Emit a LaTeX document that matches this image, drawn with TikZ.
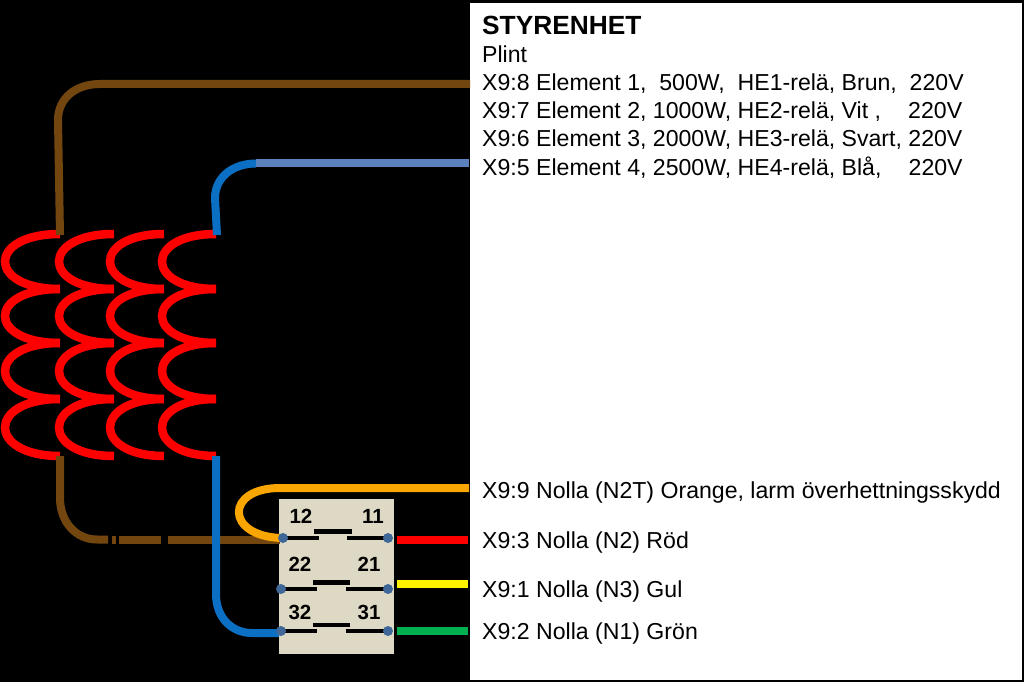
\documentclass[tikz,border=0pt]{standalone}
\usepackage{fontspec}
\setmainfont{Liberation Sans}
\definecolor{wbrown}{HTML}{734610}
\definecolor{wblue}{HTML}{0B70C4}
\definecolor{wlblue}{HTML}{5B82BD}
\definecolor{worange}{HTML}{F9A602}
\definecolor{wgreen}{HTML}{00B050}
\definecolor{relay}{HTML}{DDD9C4}
\definecolor{term}{HTML}{3F6797}
\tikzset{
  wire/.style={line width=8bp},
  coil/.style={line width=8.5bp,red},
  bar/.style={line width=4.5bp,black},
  panel/.style={fill=white,draw=none},
  plint/.style={anchor=west,inner sep=0pt,font=\fontsize{23.1bp}{26bp}\selectfont},
  pin/.style={inner sep=0pt,font=\bfseries\fontsize{20.5bp}{22bp}\selectfont},
  terminal/.style={circle,fill=term,minimum size=10bp,inner sep=0pt}
}
\begin{document}
\begin{tikzpicture}[x=1bp,y=-1bp]
\useasboundingbox (0,0) rectangle (1024,682);
\fill[black] (0,0) rectangle (1024,682);
\fill[panel] (470,3) rectangle (1022,680);
% heating coils
\foreach \xe/\xl in {60/5,114/59,164/110,216/162}{
  \foreach \ya/\yb in {234/289,289/343,343/399,399/456}{
    \draw[coil] (\xe,\ya) .. controls ({\xe-1.333*(\xe-\xl)},\ya) and ({\xe-1.333*(\xe-\xl)},\yb) .. (\xe,\yb);
  }
}
% relay
\fill[relay] (279,499) rectangle (394,654);
\coordinate (t12) at (283,538);
\coordinate (t11) at (388,538);
\coordinate (t22) at (281,589);
\coordinate (t21) at (388,589);
\coordinate (t32) at (281,631);
\coordinate (t31) at (388,631);
\coordinate (c12) at (319,538); \coordinate (c11) at (347,538);
\coordinate (c22) at (317,589); \coordinate (c21) at (346,589);
\coordinate (c32) at (317,631); \coordinate (c31) at (346,631);
\coordinate (b1a) at (314,531.5); \coordinate (b1b) at (352,531.5);
\coordinate (b2a) at (313,582.5); \coordinate (b2b) at (350,582.5);
\coordinate (b3a) at (313,625); \coordinate (b3b) at (350,625);
\draw[bar] (t12) -- (c12);
\draw[bar] (c11) -- (t11);
\draw[bar] (t22) -- (c22);
\draw[bar] (c21) -- (t21);
\draw[bar] (t32) -- (c32);
\draw[bar] (c31) -- (t31);
\draw[bar] (b1a) -- (b1b);
\draw[bar] (b2a) -- (b2b);
\draw[bar] (b3a) -- (b3b);
\node[pin] (p12) at (301,516) {12};
\node[pin] (p11) at (373,516) {11};
\node[pin] (p22) at (300,564) {22};
\node[pin] (p21) at (369,564) {21};
\node[pin] (p32) at (300,612) {32};
\node[pin] (p31) at (369,612) {31};
% coil ends
\coordinate (coilAtop) at (60,235);
\coordinate (coilDtop) at (217,235);
\coordinate (coilAbot) at (60,456);
\coordinate (coilDbot) at (216,456);
% wires
\coordinate (x8) at (470,84);
\coordinate (x5) at (469,163.5);
\coordinate (x9) at (469,488);
\coordinate (x3) at (468,540);
\coordinate (x1) at (468,584);
\coordinate (x2) at (468,630.5);
\coordinate (r11) at (397,540);
\coordinate (r21) at (397,584);
\coordinate (r31) at (397,630.5);
\coordinate (bl) at (256,163.5);
\coordinate (in12) at (280,539.5);
\coordinate (or12) at (281,538);
\coordinate (in32) at (279,633);
\draw[wire,wbrown] (coilAtop) -- (58,120) .. controls (58,98) and (76,84) .. (100,84) -- (x8);
\draw[wire,wblue] (coilDtop) -- (215,198) .. controls (215,178) and (232,163.5) .. (bl);
\draw[wire,wlblue] (bl) -- (x5);
\draw[wire,wbrown] (coilAbot) -- (60,498) .. controls (60,522) and (76,539.5) .. (97,539.5) -- (108,539.5);
\draw[wire,wbrown] (112,539.5) -- (116,539.5);
\draw[wire,wbrown] (119,539.5) -- (161,539.5);
\draw[wire,wbrown] (168,539.5) -- (in12);
\draw[wire,wblue] (coilDbot) -- (216,594) .. controls (216,618) and (232,633) .. (252,633) -- (in32);
\draw[wire,worange] (x9) -- (280,488) .. controls (225,488) and (225,536) .. (or12);
\draw[wire,red] (r11) -- (x3);
\draw[wire,yellow] (r21) -- (x1);
\draw[wire,wgreen] (r31) -- (x2);
\node[terminal] (n12) at (t12) {};
\node[terminal] (n11) at (t11) {};
\node[terminal] (n22) at (t22) {};
\node[terminal] (n21) at (t21) {};
\node[terminal] (n32) at (t32) {};
\node[terminal] (n31) at (t31) {};
% text
\node[plint,font=\bfseries\fontsize{26.3bp}{30bp}\selectfont] (title) at (482,25) {STYRENHET};
\node[plint] (plint) at (482,54.5) {Plint};
\node[plint] (l8) at (482,84) {X9:8 Element 1,\ \ 500W,\ \ HE1-relä, Brun,\ \ 220V};
\node[plint] (l7) at (482,112) {X9:7 Element 2, 1000W, HE2-relä, Vit ,\ \ \ \ \kern1.5bp 220V};
\node[plint] (l6) at (482,140) {X9:6 Element 3, 2000W, HE3-relä, Svart, 220V};
\node[plint] (l5) at (482,167.5) {X9:5 Element 4, 2500W, HE4-relä, Blå,\ \ \ \ \kern1.5bp 220V};
\node[plint] (l9) at (482,492.5) {X9:9 Nolla (N2T) Orange, larm överhettningsskydd};
\node[plint] (l3) at (482,543) {X9:3 Nolla (N2) Röd};
\node[plint] (l1) at (482,592) {X9:1 Nolla (N3) Gul};
\node[plint] (l2) at (482,634) {X9:2 Nolla (N1) Grön};
\end{tikzpicture}
\end{document}
